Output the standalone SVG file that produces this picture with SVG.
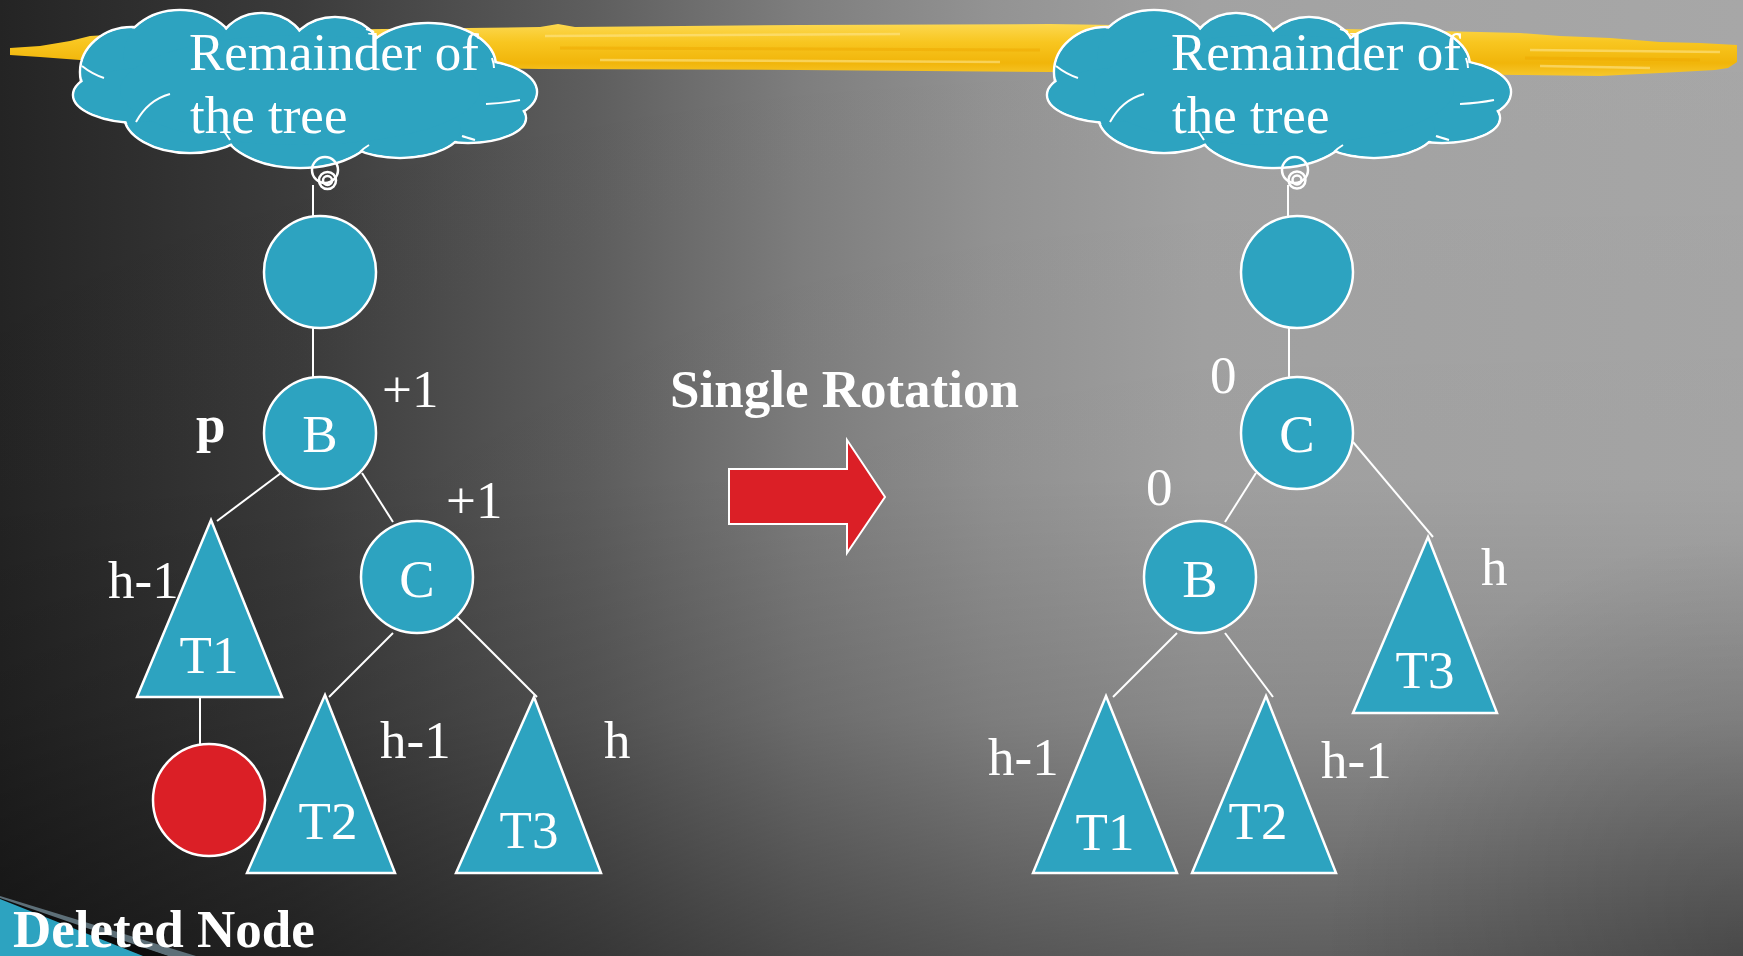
<svg xmlns="http://www.w3.org/2000/svg" xmlns:xlink="http://www.w3.org/1999/xlink" width="1743" height="956" viewBox="0 0 1743 956">
<defs>
<linearGradient id="bgx" gradientUnits="userSpaceOnUse" x1="0" y1="0" x2="1743" y2="0">
<stop offset="0" stop-color="#242424"/>
<stop offset="0.17" stop-color="#3b3b3b"/>
<stop offset="0.34" stop-color="#5e5e5e"/>
<stop offset="0.46" stop-color="#7e7e7e"/>
<stop offset="0.57" stop-color="#939393"/>
<stop offset="0.69" stop-color="#a2a2a2"/>
<stop offset="1" stop-color="#a7a7a7"/>
</linearGradient>
<linearGradient id="bgy" gradientUnits="userSpaceOnUse" x1="0" y1="0" x2="0" y2="956">
<stop offset="0" stop-color="#000" stop-opacity="0"/>
<stop offset="0.5" stop-color="#000" stop-opacity="0.02"/>
<stop offset="0.75" stop-color="#000" stop-opacity="0.15"/>
<stop offset="1" stop-color="#000" stop-opacity="0.42"/>
</linearGradient>
<radialGradient id="vig" gradientUnits="userSpaceOnUse" cx="1743" cy="956" r="420">
<stop offset="0" stop-color="#000" stop-opacity="0.25"/>
<stop offset="1" stop-color="#000" stop-opacity="0"/>
</radialGradient>
<linearGradient id="yel" x1="0" y1="0" x2="0" y2="1">
<stop offset="0" stop-color="#fcd84f"/>
<stop offset="0.35" stop-color="#f8c620"/>
<stop offset="0.75" stop-color="#f1b50a"/>
<stop offset="1" stop-color="#f6c72c"/>
</linearGradient>
<style>
.tl{font-family:"Liberation Serif","Times New Roman",serif;font-size:53px;fill:#ffffff}
.b{font-weight:bold}
.m{text-anchor:middle}
.nd{fill:#2da3c0;stroke:#ffffff;stroke-width:2.5}
.cn{stroke:#ffffff;stroke-width:2;fill:none}
.bub{fill:none;stroke:#ffffff;stroke-width:2.5}
</style>
<g id="cloudshape">
<g class="nd" stroke-width="5">
<ellipse cx="132" cy="72" rx="52" ry="45"/>
<ellipse cx="180" cy="56" rx="58" ry="46"/>
<ellipse cx="262" cy="54" rx="46" ry="41"/>
<ellipse cx="335" cy="58" rx="48" ry="41"/>
<ellipse cx="428" cy="66" rx="68" ry="43"/>
<ellipse cx="472" cy="92" rx="65" ry="32"/>
<ellipse cx="468" cy="118" rx="58" ry="25"/>
<ellipse cx="400" cy="128" rx="62" ry="30"/>
<ellipse cx="300" cy="125" rx="78" ry="43"/>
<ellipse cx="190" cy="115" rx="66" ry="38"/>
<ellipse cx="140" cy="95" rx="67" ry="28"/>
</g>
<g fill="#2da3c0">
<ellipse cx="132" cy="72" rx="50.5" ry="43.5"/>
<ellipse cx="180" cy="56" rx="56.5" ry="44.5"/>
<ellipse cx="262" cy="54" rx="44.5" ry="39.5"/>
<ellipse cx="335" cy="58" rx="46.5" ry="39.5"/>
<ellipse cx="428" cy="66" rx="66.5" ry="41.5"/>
<ellipse cx="472" cy="92" rx="63.5" ry="30.5"/>
<ellipse cx="468" cy="118" rx="56.5" ry="23.5"/>
<ellipse cx="400" cy="128" rx="60.5" ry="28.5"/>
<ellipse cx="300" cy="125" rx="76.5" ry="41.5"/>
<ellipse cx="190" cy="115" rx="64.5" ry="36.5"/>
<ellipse cx="140" cy="95" rx="65.5" ry="26.5"/>
<ellipse cx="300" cy="90" rx="180" ry="55"/>
</g>
<g class="cn" stroke-width="2.5">
<path d="M82 66 Q92 74 104 78"/>
<path d="M136 122 Q148 100 170 94"/>
<path d="M230 140 Q226 134 224 131"/>
<path d="M360 152 Q364 148 369 145"/>
<path d="M475 140 Q465 137 462 136"/>
<path d="M520 100 Q505 103 486 104"/>
<path d="M492 58 Q494 64 494 68"/>
<path d="M374 32 Q370 30 366 29"/>
</g>
</g>
</defs>

<rect x="0" y="0" width="1743" height="956" fill="url(#bgx)"/>
<rect x="0" y="0" width="1743" height="956" fill="url(#bgy)"/>
<rect x="0" y="0" width="1743" height="956" fill="url(#vig)"/>

<g id="brush">
<path d="M10 48 L40 46 L70 41 L90 36 L140 33 L300 30 L540 27 L558 24 L575 27 L800 25 L1050 24 L1300 28 L1480 32 L1520 33 L1560 36 L1610 38 L1660 42 L1700 43 L1737 45 L1737 62 L1728 68 L1715 70 L1660 73 L1600 76 L1520 75 L1300 73 L1050 72 L800 70 L540 69 L300 66 L120 62 L80 60 L40 57 L10 55 Z" fill="url(#yel)"/>
<path d="M545 36 L900 34 M600 60 L1000 62 M1530 50 L1720 52 M1540 66 L1650 68" stroke="#fde48a" stroke-width="2.5" fill="none" opacity="0.6"/>
<path d="M560 48 L1040 50 M1525 58 L1700 60" stroke="#eea800" stroke-width="3" fill="none" opacity="0.5"/>
</g>

<g id="deco">
<polygon points="0,896 196,956 168,956 0,902" fill="#5d6f78"/>
<polygon points="0,898 168,956 143,956 0,900" fill="#0d0d0d"/>
<polygon points="0,899 143,956 0,956" fill="#2da3c0"/>
</g>

<g id="connectors">
<line class="cn" x1="313" y1="185" x2="313" y2="216"/>
<line class="cn" x1="313" y1="328" x2="313" y2="378"/>
<line class="cn" x1="281" y1="473" x2="217" y2="521"/>
<line class="cn" x1="362" y1="473" x2="393" y2="522"/>
<line class="cn" x1="200" y1="697" x2="200" y2="745"/>
<line class="cn" x1="393" y1="633" x2="329" y2="697"/>
<line class="cn" x1="457" y1="617" x2="537" y2="697"/>
<line class="cn" x1="1288" y1="185" x2="1288" y2="216"/>
<line class="cn" x1="1289" y1="328" x2="1289" y2="378"/>
<line class="cn" x1="1256" y1="473" x2="1225" y2="522"/>
<line class="cn" x1="1353" y1="442" x2="1433" y2="537"/>
<line class="cn" x1="1177" y1="633" x2="1113" y2="697"/>
<line class="cn" x1="1225" y1="633" x2="1273" y2="697"/>
</g>

<g id="cloud-left">
<use xlink:href="#cloudshape"/>
<circle class="bub" cx="325" cy="170" r="13"/>
<circle class="bub" cx="327.5" cy="180.5" r="8.5"/>
<circle class="bub" cx="327.5" cy="180.5" r="4.5"/>
<text class="tl" x="189" y="70">Remainder of</text>
<text class="tl" x="190" y="133">the tree</text>
</g>

<g id="cloud-right">
<use xlink:href="#cloudshape" transform="translate(974 0)"/>
<circle class="bub" cx="1295" cy="170" r="13"/>
<circle class="bub" cx="1297" cy="180" r="8.5"/>
<circle class="bub" cx="1297" cy="180" r="4.5"/>
<text class="tl" x="1171" y="70">Remainder of</text>
<text class="tl" x="1172" y="133">the tree</text>
</g>

<g id="L-top"><circle class="nd" cx="320" cy="272" r="56"/></g>
<g id="L-B"><circle class="nd" cx="320" cy="433" r="56"/><text class="tl m" x="320" y="452">B</text></g>
<g id="L-C"><circle class="nd" cx="417" cy="577" r="56"/><text class="tl m" x="417" y="597">C</text></g>
<g id="L-T1"><polygon class="nd" points="211,520 282,697 137,697"/><text class="tl m" x="209" y="673">T1</text></g>
<g id="L-del"><circle cx="209" cy="800" r="56" fill="#db1f26" stroke="#ffffff" stroke-width="2.5"/></g>
<g id="L-T2"><polygon class="nd" points="325,695 395,873 247,873"/><text class="tl m" x="328" y="839">T2</text></g>
<g id="L-T3"><polygon class="nd" points="534,697 601,873 456,873"/><text class="tl m" x="529" y="848">T3</text></g>

<g id="L-labels">
<text class="tl" x="382" y="407">+1</text>
<text class="tl b" x="196" y="442">p</text>
<text class="tl" x="446" y="518">+1</text>
<text class="tl" x="108" y="598">h-1</text>
<text class="tl" x="380" y="758">h-1</text>
<text class="tl" x="604" y="758">h</text>
<text class="tl b" x="13" y="947">Deleted Node</text>
</g>

<g id="arrow">
<polygon points="729,469 847,469 847,440 885,497 847,553 847,524 729,524" fill="#db1f26" stroke="#ffffff" stroke-width="2"/>
<text class="tl b" x="670" y="407">Single Rotation</text>
</g>

<g id="R-top"><circle class="nd" cx="1297" cy="272" r="56"/></g>
<g id="R-C"><circle class="nd" cx="1297" cy="433" r="56"/><text class="tl m" x="1297" y="452">C</text></g>
<g id="R-B"><circle class="nd" cx="1200" cy="577" r="56"/><text class="tl m" x="1200" y="597">B</text></g>
<g id="R-T3"><polygon class="nd" points="1428,537 1497,713 1353,713"/><text class="tl m" x="1425" y="688">T3</text></g>
<g id="R-T1"><polygon class="nd" points="1106,696 1177,873 1033,873"/><text class="tl m" x="1105" y="850">T1</text></g>
<g id="R-T2"><polygon class="nd" points="1266,696 1336,873 1192,873"/><text class="tl m" x="1258" y="839">T2</text></g>

<g id="R-labels">
<text class="tl" x="1210" y="393">0</text>
<text class="tl" x="1146" y="505">0</text>
<text class="tl" x="1481" y="585">h</text>
<text class="tl" x="988" y="775">h-1</text>
<text class="tl" x="1321" y="778">h-1</text>
</g>
</svg>
